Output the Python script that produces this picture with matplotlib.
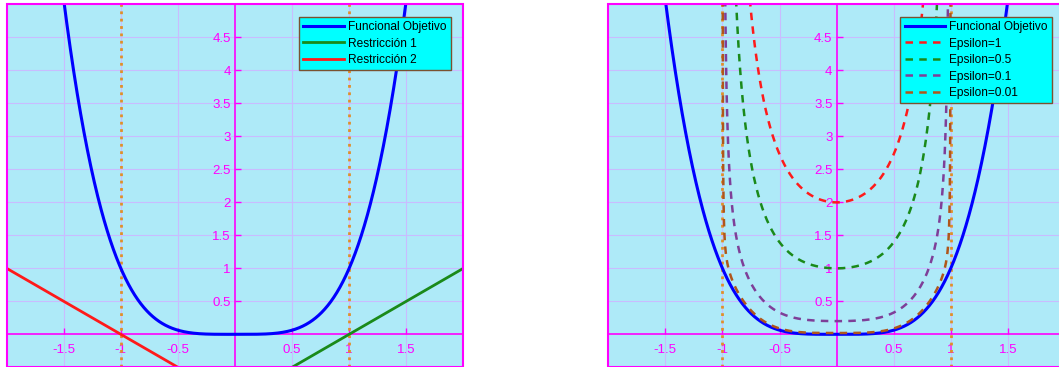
import numpy as np
import matplotlib
matplotlib.use("Agg")
import matplotlib.pyplot as plt
from matplotlib.patches import Rectangle

plt.rcParams['font.family'] = ['Liberation Sans', 'DejaVu Sans']

# Problem: minimise f(x) = x^4 subject to x - 1 <= 0 and -x - 1 <= 0
obj_power = 4
constraint_labels = ["Restricción 1", "Restricción 2"]
constraint_slopes = [1.0, -1.0]
constraint_offsets = [-1.0, -1.0]
bounds = [-1.0, 1.0]

# Inverse-barrier weights
epsilons = [1, 0.5, 0.1, 0.01]
eps_labels = ["Epsilon=1", "Epsilon=0.5", "Epsilon=0.1", "Epsilon=0.01"]
eps_colors = ["#ff1a1a", "#1a8a1a", "#7e3f98", "#b0561a"]

xticks = [-1.5, -1, -0.5, 0.5, 1, 1.5]
yticks = [0.5, 1, 1.5, 2, 2.5, 3, 3.5, 4, 4.5]
xlim = (-2, 2)
ylim = (-0.5, 5)

MAGENTA = "#ff00ff"
BG = "#aeeaf8"
GRID = "#c9bcff"
ORANGE = "#e0902a"

W, H = 1059, 367
fig = plt.figure(figsize=(W / 100, H / 100), dpi=100)


def style_axes(ax):
    ax.set_facecolor(BG)
    ax.set_xlim(*xlim)
    ax.set_ylim(*ylim)
    ax.spines['left'].set_position(('data', 0))
    ax.spines['bottom'].set_position(('data', 0))
    for s in ['top', 'right']:
        ax.spines[s].set_visible(False)
    for s in ['left', 'bottom']:
        ax.spines[s].set_color(MAGENTA)
        ax.spines[s].set_linewidth(1.2)
    ax.add_patch(Rectangle((0, 0), 1, 1, transform=ax.transAxes, fill=False,
                           edgecolor=MAGENTA, lw=1.5, clip_on=False, zorder=5))
    ax.set_xticks(xticks)
    ax.set_yticks(yticks)
    ax.set_xticklabels([f"{t:g}" for t in xticks])
    ax.set_yticklabels([f"{t:g}" for t in yticks])
    ax.tick_params(colors=MAGENTA, labelcolor=MAGENTA, labelsize=9.5,
                   direction='in', length=4, width=1)
    ax.tick_params(axis='x', pad=7)
    ax.tick_params(axis='y', pad=3)
    ax.grid(True, color=GRID, lw=0.8)
    ax.set_axisbelow(True)
    for b in bounds:
        ax.axvline(b, color=ORANGE, ls=':', lw=2, zorder=2)


def make_legend(ax):
    leg = ax.legend(loc='upper right', bbox_to_anchor=(0.972, 0.966),
                    borderaxespad=0, fontsize=8.6, fancybox=False, framealpha=1,
                    handlelength=3.4, handletextpad=0.35, labelspacing=0.38,
                    borderpad=0.35)
    leg.get_frame().set_facecolor("#00ffff")
    leg.get_frame().set_edgecolor("#7a5230")
    leg.get_frame().set_linewidth(1)
    leg.set_zorder(10)


ax_w = 456.6 / W
ax_b = -0.3 / H
ax_h = (H - 4.5 + 0.3) / H

x = np.linspace(xlim[0], xlim[1], 1200)
f = x ** obj_power

# Left: objective and constraint functions
ax1 = fig.add_axes([6.7 / W, ax_b, ax_w, ax_h])
style_axes(ax1)
ax1.plot(x, f, color="#0000ff", lw=2.2, label="Funcional Objetivo", zorder=3)
ax1.plot(x, constraint_slopes[0] * x + constraint_offsets[0], color="#1a8a1a",
         lw=2, label=constraint_labels[0], zorder=3)
ax1.plot(x, constraint_slopes[1] * x + constraint_offsets[1], color="#ff1a1a",
         lw=2, label=constraint_labels[1], zorder=3)
make_legend(ax1)

# Right: barrier-penalised objective for several epsilons
ax2 = fig.add_axes([608.3 / W, ax_b, ax_w, ax_h])
style_axes(ax2)
ax2.plot(x, f, color="#0000ff", lw=2.2, label="Funcional Objetivo", zorder=3)
xi = np.linspace(bounds[0] + 1e-4, bounds[1] - 1e-4, 4000)
g1 = constraint_slopes[0] * xi + constraint_offsets[0]
g2 = constraint_slopes[1] * xi + constraint_offsets[1]
for eps, lab, col in zip(epsilons, eps_labels, eps_colors):
    b = xi ** obj_power + eps * (-1 / g1 - 1 / g2)
    ax2.plot(xi, b, color=col, lw=1.8, ls=(0, (3, 2.5)), label=lab, zorder=4)
make_legend(ax2)

fig.savefig("out.png", dpi=100, facecolor="white")
